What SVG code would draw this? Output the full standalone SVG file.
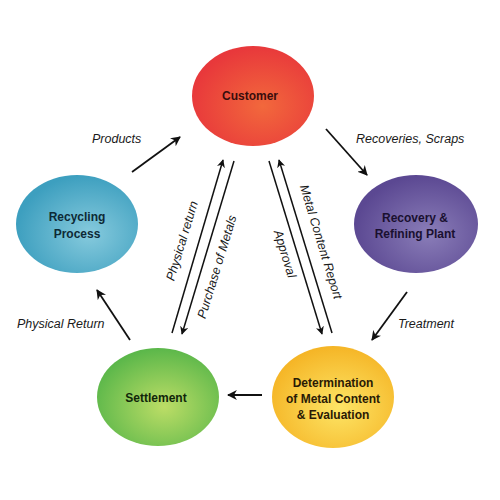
<svg xmlns="http://www.w3.org/2000/svg" width="500" height="500" viewBox="0 0 500 500">
<style>
.node{font-family:"Liberation Sans",Arial,sans-serif;font-weight:bold;font-size:12px;text-anchor:middle}
.lbl{font-family:"Liberation Sans",Arial,sans-serif;font-style:italic;font-size:12.5px;fill:#1a1a1a}
.ar{stroke:#111;stroke-width:1.8;fill:none;marker-end:url(#ah)}
.ln{stroke:#111;stroke-width:1.5;fill:none;marker-end:url(#ah)}
</style>
<defs>
<marker id="ah" viewBox="0 0 10 10" refX="9" refY="5" markerWidth="5.5" markerHeight="5.5" orient="auto" markerUnits="strokeWidth">
<path d="M0,0 L10,5 L0,10 L3,5 Z" fill="#111"/>
</marker>
<radialGradient id="gRed" cx="0.58" cy="0.6" r="0.6">
<stop offset="0" stop-color="#f2683c"/><stop offset="1" stop-color="#e8383b"/>
</radialGradient>
<radialGradient id="gBlue" cx="0.6" cy="0.6" r="0.6">
<stop offset="0" stop-color="#86cadd"/><stop offset="1" stop-color="#3d9fbf"/>
</radialGradient>
<radialGradient id="gPurple" cx="0.6" cy="0.6" r="0.6">
<stop offset="0" stop-color="#8a7db8"/><stop offset="1" stop-color="#5b4892"/>
</radialGradient>
<radialGradient id="gGreen" cx="0.55" cy="0.6" r="0.6">
<stop offset="0" stop-color="#bcdd66"/><stop offset="1" stop-color="#5bb74a"/>
</radialGradient>
<radialGradient id="gYellow" cx="0.55" cy="0.6" r="0.6">
<stop offset="0" stop-color="#fde566"/><stop offset="1" stop-color="#f5b526"/>
</radialGradient>
</defs>
<rect width="500" height="500" fill="#ffffff"/>

<g id="customer">
<ellipse cx="253" cy="96" rx="61" ry="50" fill="url(#gRed)"/>
<text class="node" x="250" y="100" fill="#3a0d0d">Customer</text>
</g>
<g id="recycling">
<ellipse cx="77" cy="224" rx="61" ry="49" fill="url(#gBlue)"/>
<text class="node" x="77" y="221" fill="#0d2a36">Recycling</text>
<text class="node" x="77" y="238" fill="#0d2a36">Process</text>
</g>
<g id="recovery">
<ellipse cx="416" cy="224" rx="62" ry="49" fill="url(#gPurple)"/>
<text class="node" x="415" y="222" fill="#1a1030">Recovery &amp;</text>
<text class="node" x="415" y="238" fill="#1a1030">Refining Plant</text>
</g>
<g id="settlement">
<ellipse cx="158" cy="397" rx="61" ry="49" fill="url(#gGreen)"/>
<text class="node" x="156" y="402" fill="#10260a">Settlement</text>
</g>
<g id="determination">
<ellipse cx="333" cy="397" rx="61" ry="51" fill="url(#gYellow)"/>
<text class="node" x="333" y="387" fill="#2a1a05">Determination</text>
<text class="node" x="333" y="403" fill="#2a1a05">of Metal Content</text>
<text class="node" x="333" y="419" fill="#2a1a05">&amp; Evaluation</text>
</g>

<g id="connectors">
<line class="ar" x1="132" y1="172" x2="180" y2="137"/>
<line class="ar" x1="326" y1="129" x2="367" y2="175"/>
<line class="ar" x1="407" y1="292" x2="372" y2="340"/>
<line class="ar" x1="262" y1="395" x2="228" y2="395"/>
<line class="ar" x1="130" y1="340" x2="97" y2="290"/>
<line class="ln" x1="172" y1="333" x2="223" y2="160"/>
<line class="ln" x1="234" y1="161" x2="182" y2="334"/>
<line class="ln" x1="269" y1="161" x2="322" y2="334"/>
<line class="ln" x1="332" y1="333" x2="279" y2="160"/>
</g>

<g id="labels">
<text class="lbl" x="92" y="143">Products</text>
<text class="lbl" x="356" y="143">Recoveries, Scraps</text>
<text class="lbl" x="398" y="328">Treatment</text>
<text class="lbl" x="17" y="328">Physical Return</text>
<text class="lbl" text-anchor="middle" transform="translate(186,242) rotate(-73)">Physical return</text>
<text class="lbl" text-anchor="middle" transform="translate(221,268) rotate(-73)">Purchase of Metals</text>
<text class="lbl" text-anchor="middle" transform="translate(281,255) rotate(73)">Approval</text>
<text class="lbl" text-anchor="middle" transform="translate(317,243) rotate(73)">Metal Content Report</text>
</g>
</svg>
